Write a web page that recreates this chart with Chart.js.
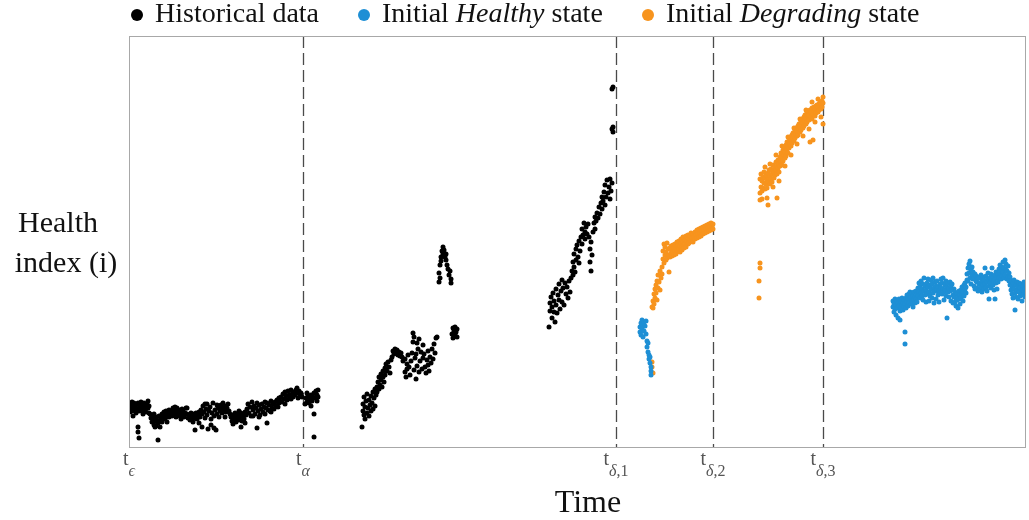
<!DOCTYPE html>
<html>
<head>
<meta charset="utf-8">
<script src="https://cdn.jsdelivr.net/npm/chart.js@4.4.1/dist/chart.umd.min.js"></script>
<style>
  body { margin: 0; background: #fff; }
  canvas { display: block; }
</style>
</head>
<body>
<canvas id="health" width="1029" height="520"></canvas>
<script>
// time on x, health index on y
const historicalData = [
  [0,3.9],[1,4.3],[1,3.5],[2,4.0],[3,4.5],[3,3.6],[4,4.1],[4,3.1],[5,3.7],[5,4.4],[6,3.9],[7,4.2],[7,3.4],[8,3.8],[9,4.4],[9,2.0],[9,1.5],[10,0.9],[10,3.6],[11,4.1],[12,3.9],[12,4.5],[13,3.6],[14,4.2],[14,3.3],[15,3.8],[15,4.4],[16,4.0],[17,3.5],[18,4.3],[19,3.9],[19,4.6],[20,4.1],[20,3.4],
  [21,3.3],[22,2.9],[23,3.1],[23,2.5],[24,2.8],[25,2.2],[25,3.3],[26,2.6],[26,2.0],[27,3.0],[27,2.1],[28,2.7],[29,0.7],[29,2.4],[30,3.1],[31,2.6],[31,2.0],[32,2.9],[33,3.3],[33,2.5],[34,3.0],[35,3.5],[36,2.8],[36,3.2],[37,3.6],[38,3.1],[38,2.5],[39,3.4],[40,3.0],[40,3.7],
  [41,3.3],[42,3.6],[43,3.1],[44,3.9],[44,3.4],[45,3.2],[46,3.6],[46,4.0],[47,3.0],[48,3.5],[48,3.9],[49,3.3],[50,3.7],[51,3.1],[52,3.4],[52,2.8],[53,3.8],[53,3.2],[54,3.6],[55,3.0],[56,3.4],[57,3.9],[58,3.3],[58,3.9],[59,2.9],[60,3.2],[61,2.7],[62,3.4],[62,3.0],[63,2.8],[64,3.3],[64,2.5],[65,3.1],[66,1.7],[66,2.9],[67,3.4],[68,2.8],[69,3.2],[70,3.5],[70,2.4],
  [71,3.0],[72,3.7],[73,2.0],[73,3.3],[74,4.1],[75,3.5],[76,2.9],[76,4.3],[77,3.8],[78,4.3],[78,3.2],[79,1.8],[80,3.6],[81,4.0],[82,2.8],[82,2.2],[83,3.4],[84,4.4],[85,1.9],[85,3.1],[86,3.7],[87,1.7],[88,4.2],[88,3.3],[89,3.9],[90,3.0],[90,4.1],[91,3.6],[92,4.2],[93,3.9],[93,3.4],[94,4.4],[95,3.7],[96,4.1],[96,3.0],[97,3.5],[98,3.9],[99,4.3],[100,3.6],
  [101,3.3],[102,3.0],[103,2.6],[104,3.2],[104,2.3],[105,2.8],[106,3.4],[107,2.5],[107,3.1],[108,2.9],[109,3.3],[110,2.7],[110,3.6],[111,3.0],[112,2.0],[112,3.4],[113,2.6],[114,3.1],[115,2.8],[116,3.5],[116,2.4],[117,3.2],[118,3.8],[119,4.3],[120,3.4],[121,4.0],[122,3.1],[123,4.5],[124,3.7],[124,3.1],[125,4.1],[126,3.3],[127,3.9],[128,1.9],[128,4.4],[129,3.6],[130,4.2],[130,3.0],
  [131,3.2],[132,3.8],[133,4.3],[134,3.5],[135,4.0],[136,3.3],[136,4.5],[137,3.9],[138,2.4],[138,4.4],[139,3.7],[140,4.2],[141,3.6],[142,4.6],[142,3.5],[143,3.9],[144,4.3],[145,3.8],[146,4.5],[147,4.1],[148,4.7],[149,4.0],[150,4.4],[150,4.9],[151,4.6],[152,5.0],[153,4.5],[154,5.3],[155,4.8],[156,5.5],[156,4.3],[157,5.1],[158,4.7],[159,5.6],[160,5.2],
  [161,4.9],[162,5.7],[162,4.8],[163,5.3],[164,5.0],[165,5.5],[166,5.2],[167,5.7],[168,5.4],[168,5.9],[169,4.9],[170,5.6],[171,5.1],[172,5.4],[173,5.0],
  [176,4.3],[177,4.9],[178,4.5],[178,5.4],[179,5.1],[180,4.4],[181,4.8],[182,5.2],[182,4.1],[183,4.6],[184,5.0],[185,3.3],[185,1.0],[185,5.4],[186,4.9],[187,5.6],[188,5.2],[188,4.6],[189,5.7],[189,5.0],
  [233,2.0],[234,4.3],[234,3.6],[235,5.0],[235,3.2],[236,4.0],[236,2.8],[237,4.6],[238,3.4],[238,5.3],[239,3.9],[240,4.7],[240,3.1],[241,4.2],[242,5.1],[242,3.6],[243,4.4],[244,3.8],[244,5.5],[245,4.9],[246,4.1],[246,5.8],[247,5.2],[248,6.0],[248,5.5],[249,6.5],[250,5.8],[250,7.0],
  [251,6.2],[252,7.3],[252,6.7],[253,6.0],[254,7.6],[254,7.0],[255,6.5],[256,7.9],[256,7.2],[257,8.3],[258,7.6],[259,8.5],[260,8.0],[261,7.4],[262,8.7],[263,9.0],[264,9.6],[265,9.3],[266,9.8],[267,9.4],[268,9.7],[269,9.2],[270,9.5],[271,9.1],[272,9.4],[273,9.0],[274,8.6],
  [276,7.5],[276,8.8],[277,7.0],[278,8.3],[278,7.8],[279,9.2],[280,8.0],[281,7.2],[282,8.6],[283,9.4],[284,10.5],[284,11.4],[285,11.0],[285,7.7],[286,8.9],[287,6.8],[287,9.3],[288,10.4],[288,8.1],[289,9.8],[290,7.5],[290,10.8],[291,8.6],[292,9.5],[293,7.8],[294,10.2],[294,8.9],[295,9.3],[296,8.0],[297,7.4],[298,8.7],[299,9.6],[299,8.2],[300,7.6],
  [301,9.0],[302,8.4],[303,9.8],[304,8.8],[305,10.3],[306,9.4],[307,10.9],[308,11.0],
  [310,16.5],[310,17.4],[311,18.2],[311,16.9],[312,19.0],[312,18.6],[313,19.6],[314,20.0],[314,19.3],[315,19.7],[316,19.0],[317,18.7],[317,19.3],[318,18.2],[319,17.8],[320,17.2],[321,17.6],[322,16.8],[322,16.4],
  [323,11.3],[324,11.9],[324,10.9],[325,11.6],[326,12.0],[326,11.2],[327,11.5],[328,11.8],[328,11.0],
  [420,12.0],[421,14.4],[421,13.6],[422,15.0],[423,14.0],[423,12.9],[424,15.4],[425,14.6],[425,13.5],[426,12.5],[427,15.8],[427,14.2],[428,13.4],[429,15.2],[430,16.3],[430,14.7],[431,13.8],[432,15.6],[433,16.7],[433,14.5],[434,15.9],[435,14.2],[436,16.4],[437,15.3],[438,16.0],[439,14.9],[440,16.6],[441,15.5],[442,16.9],
  [443,17.6],[444,18.5],[444,17.2],[445,19.3],[445,18.0],[446,17.5],[447,19.8],[447,18.7],[448,20.2],[449,19.0],[450,20.6],[450,18.4],[451,19.6],[452,21.0],[453,20.3],[453,21.8],[454,21.2],[455,22.4],[456,21.5],[456,20.8],[457,22.0],[458,21.3],[459,22.3],[460,21.0],
  [461,19.8],[461,18.5],[462,17.6],[462,20.5],[463,19.2],[464,21.5],[465,22.4],[466,23.0],[466,21.8],[467,22.6],[468,23.4],[469,22.9],[470,24.0],[471,23.3],[472,24.4],[473,25.0],[473,23.8],[474,24.6],[475,25.5],[476,24.2],[476,26.2],[477,25.0],[478,26.7],[479,25.4],[480,26.0],
  [481,26.8],[481,24.8],[482,25.6],[483,26.4],[483,31.8],[484,31.5],[484,32.0],[483,35.8],[484,36.0]
];

const healthyData = [
  [511,11.5],[511,12.0],[512,12.4],[512,11.2],[513,12.7],[513,11.8],[514,12.2],[514,11.0],[515,12.5],[515,11.6],[516,12.1],[517,12.6],[517,11.3],[518,10.6],[518,10.0],[519,10.4],[519,9.5],[520,9.2],[520,8.8],[521,8.4],[521,9.0],[522,8.0],[522,7.6],[522,7.2],
  [764,14.0],[764,14.6],[765,13.5],[765,14.3],[766,14.8],[766,13.8],[767,14.2],[767,13.2],[768,14.6],[768,13.9],[769,14.4],[769,12.9],[770,14.1],[770,14.8],[771,13.6],[771,12.7],[772,14.5],[772,13.9],[773,14.2],[773,14.9],[774,13.7],[774,14.4],[775,14.0],[775,14.7],
  [776,11.5],[776,10.3],[776,14.3],[777,14.9],[777,13.9],[778,14.5],[778,15.2],[779,14.1],[779,14.8],[780,15.3],[780,14.4],[781,14.9],[781,15.5],[782,14.3],[782,15.0],[783,14.6],[783,15.4],[784,14.0],[784,15.1],[785,14.7],[785,15.5],[786,14.4],[786,15.0],[787,15.6],[787,14.8],[788,15.3],[788,14.5],
  [789,15.9],[789,15.1],[790,16.4],[790,15.5],[791,14.9],[791,16.0],[792,15.4],[792,16.6],[793,15.1],[793,15.8],[794,16.3],[794,14.7],[795,15.6],[795,16.9],[796,15.2],[796,16.1],[797,15.7],[797,14.5],[798,16.4],[798,15.3],[799,16.0],[799,16.8],[800,15.5],[800,14.6],
  [801,16.2],[801,15.1],[802,16.7],[802,15.8],[803,14.9],[803,16.3],[804,15.4],[804,16.9],[805,15.9],[805,14.4],[806,16.5],[806,15.6],[807,16.1],[807,14.8],[808,15.7],[808,16.6],[809,15.2],[809,16.0],[810,15.6],[810,14.5],
  [811,16.3],[811,15.4],[812,16.8],[812,15.9],[813,15.3],[813,16.4],[814,15.8],[814,16.9],[815,15.5],[815,14.7],[816,16.2],[816,15.7],[817,16.6],[817,15.1],[818,16.0],[818,12.9],[819,15.5],[819,16.4],[820,15.9],[820,15.0],
  [821,16.5],[821,15.6],[822,16.1],[822,14.6],[823,15.7],[823,16.3],[824,15.2],[824,14.4],[825,15.8],[825,15.0],[826,14.5],[826,15.5],[827,14.9],[827,14.1],[828,15.3],[828,14.7],[829,15.0],[829,13.9],[830,15.6],[830,14.8],
  [831,15.2],[831,14.3],[832,15.7],[832,14.9],[833,15.3],[833,16.0],[834,14.6],[834,15.5],[835,16.2],[835,15.1],[836,15.8],[836,16.4],[837,15.4],[837,16.0],[838,16.7],[838,17.3],[839,17.9],[839,16.6],[840,18.3],[840,17.4],
  [841,18.6],[841,16.9],[842,17.7],[842,16.3],[843,17.2],[843,18.0],[844,16.8],[844,17.5],[845,16.1],[845,16.9],[846,17.3],[846,15.8],[847,16.6],[847,17.1],[848,15.9],[848,16.5],[849,17.0],[849,15.6],[850,16.3],[850,16.9],
  [851,15.7],[851,16.4],[852,17.2],[852,16.0],[853,15.5],[853,16.6],[854,17.0],[854,16.2],[855,15.8],[855,16.7],[856,17.9],[856,16.3],[857,15.9],[857,17.1],[858,16.5],[858,15.6],[859,17.4],[859,16.8],[860,16.1],[860,14.8],
  [861,16.9],[861,16.4],[862,17.3],[862,15.9],[863,17.9],[863,16.7],[864,16.2],[864,17.0],[865,15.7],[865,16.6],[866,17.2],[866,14.8],[867,16.4],[867,17.5],[868,16.9],[868,15.8],[869,17.3],[869,16.5],[870,17.8],[870,16.9],
  [871,17.4],[871,18.2],[872,16.8],[872,17.6],[873,18.0],[873,17.1],[874,18.5],[874,17.5],[875,16.9],[875,17.9],[876,18.7],[876,17.2],[877,17.7],[877,18.3],[878,16.8],[878,17.6],[879,18.1],[879,17.0],[880,16.6],[880,17.4],
  [881,16.2],[881,17.0],[882,15.7],[882,16.6],[883,16.1],[883,15.3],[884,16.4],[884,14.9],[885,15.8],[885,16.7],[886,15.4],[886,13.7],[887,16.2],[887,15.0],[888,16.5],[888,15.6],[889,16.0],[889,14.8],[890,15.5],[890,16.4],
  [891,15.1],[891,15.9],[892,16.3],[892,15.3],[893,15.7],[893,14.6],[894,16.1],[894,15.2],[895,15.6],[895,16.5],[896,15.0],[896,15.8],[897,15.4],[897,16.2]
];

const degradingData = [
  [523,8.5],[523,8.0],[524,7.4],
  [523,14.0],[524,14.6],[524,13.9],[525,15.3],[525,14.3],[526,15.8],[526,14.9],[527,16.2],[527,15.4],[528,14.7],[528,16.6],[529,15.9],[529,17.2],[530,16.5],[531,17.6],[531,15.7],[532,16.9],
  [533,18.0],[533,17.3],[534,18.8],[534,19.6],[535,18.4],[535,20.3],[536,19.2],[536,20.0],[537,18.7],[537,19.5],[538,20.4],[538,18.9],[539,19.8],[540,17.5],[540,19.2],
  [541,19.9],[541,19.0],[542,19.4],[542,20.1],[543,19.1],[543,19.8],[544,19.5],[544,20.2],[545,19.2],[545,19.9],[546,19.6],[546,20.3],[547,19.9],[547,19.3],[548,20.1],[548,20.5],[549,19.6],[549,20.2],[550,19.8],[550,20.6],
  [551,20.1],[551,19.5],[552,20.4],[552,20.8],[553,20.0],[553,19.7],[554,20.5],[554,21.0],[555,20.2],[555,19.9],[556,20.7],[556,20.3],[557,21.1],[557,20.0],[558,20.6],[559,20.3],[559,21.2],[560,20.8],[560,20.4],
  [561,21.1],[562,20.6],[562,21.4],[563,20.9],[564,21.3],[564,20.5],[565,21.0],[566,21.5],[566,20.8],[567,21.2],[568,21.7],[568,20.9],[569,21.3],[570,21.8],[570,21.0],
  [571,21.4],[572,21.9],[572,21.1],[573,21.6],[574,22.0],[574,21.3],[575,21.7],[576,22.1],[576,21.4],[577,21.8],[578,22.2],[578,21.5],[579,21.9],[580,22.3],[580,21.6],[581,22.0],[582,22.4],[582,21.7],[583,22.1],[584,21.8],[584,22.3],
  [630,14.9],[630,16.6],[631,17.9],[631,18.4],[631,24.7],[639,24.2],[648,24.9],
  [631,25.4],[631,26.8],[632,26.0],[632,27.3],[633,25.6],[633,26.6],[633,24.8],[634,27.0],[634,25.9],[635,26.4],[635,27.5],[636,25.8],[636,26.9],[636,28.0],[637,26.3],[637,27.2],[638,26.7],[638,25.9],[638,24.9],[639,27.4],[639,26.5],[640,26.9],[640,27.7],
  [641,26.3],[641,27.1],[641,28.3],[642,26.8],[642,27.8],[643,27.3],[643,26.5],[644,27.6],[644,28.2],[644,26.0],[645,26.9],[645,27.5],[646,28.0],[646,27.2],[647,28.5],[647,27.7],[647,29.2],[648,28.1],[648,27.3],[649,28.7],[649,27.9],[650,28.3],[650,27.5],[650,26.6],
  [651,29.0],[651,28.1],[652,28.6],[652,29.4],[653,28.2],[653,29.0],[653,30.1],[654,29.7],[654,28.6],[655,29.2],[655,30.0],[656,28.9],[656,29.5],[656,28.1],[657,30.2],[657,29.1],[658,29.8],[658,30.5],[659,29.4],[659,30.1],[659,31.0],[660,30.6],[660,29.9],
  [661,30.3],[661,31.0],[662,30.1],[662,30.7],[662,29.2],[663,31.2],[663,30.4],[664,30.9],[664,31.4],[665,30.6],[665,31.1],[665,31.9],[666,31.6],[666,30.9],[667,31.3],[667,31.9],[668,31.1],[668,31.6],[668,30.3],[669,32.1],[669,31.2],[670,31.8],[670,32.3],
  [671,31.5],[671,32.0],[671,32.8],[672,32.5],[672,31.7],[673,32.2],[673,32.8],[674,31.9],[674,32.4],[674,31.1],[675,33.0],[675,32.1],[676,32.6],[676,33.2],[677,32.3],[677,32.9],[677,33.7],[678,33.4],[678,32.5],[679,33.1],[679,33.6],[680,32.7],[680,33.2],[680,31.8],
  [681,33.7],[681,30.5],[682,33.0],[682,33.5],[683,32.8],[683,33.9],[683,34.5],[684,33.3],[684,30.7],[685,33.6],[685,34.0],[686,33.1],[686,33.8],[686,32.5],[687,34.1],[687,33.4],[688,33.9],[688,34.2],[689,33.5],[689,34.0],[689,34.8],[690,34.3],[690,33.7],
  [691,34.1],[691,34.5],[692,33.8],[692,34.3],[692,33.0],[693,34.6],[693,34.0],[694,34.4],[694,32.3],[694,35.0]
];

// change points: t_eps, t_alpha, t_delta1..3
const tickTimes = [0, 174, 487, 584, 694];
const tickSubs = ["\u03F5", "\u03B1", "\u03B4,1", "\u03B4,2", "\u03B4,3"];
const dashedTimes = [174, 487, 584, 694];

const BLUE = "#1e8fd5";
const ORANGE = "#f7941e";
const SERIF = "'Liberation Serif', 'Times New Roman', serif";

function toPoints(arr) {
    return arr.map(p => ({ x: p[0], y: p[1] }));
}

const overlay = {
    id: "overlay",
    beforeDatasetsDraw(chart) {
        const ctx = chart.ctx;
        const a = chart.chartArea;
        const x = chart.scales.x;
        ctx.save();
        ctx.strokeStyle = "#4a4a4a";
        ctx.lineWidth = 1.3;
        ctx.setLineDash([12, 5]);
        dashedTimes.forEach(t => {
            const px = Math.round(x.getPixelForValue(t)) + 0.5;
            ctx.beginPath();
            ctx.moveTo(px, a.top);
            ctx.lineTo(px, a.bottom);
            ctx.stroke();
        });
        ctx.restore();
    },
    afterDraw(chart) {
        const ctx = chart.ctx;
        const a = chart.chartArea;
        const x = chart.scales.x;
        ctx.save();

        // frame
        ctx.strokeStyle = "#a8a8a8";
        ctx.lineWidth = 1;
        ctx.strokeRect(a.left + 0.5, a.top + 0.5, a.right - a.left - 1, a.bottom - a.top);

        // tick labels t with subscripts
        ctx.fillStyle = "#555";
        ctx.textBaseline = "alphabetic";
        ctx.textAlign = "left";
        tickTimes.forEach((t, i) => {
            const px = x.getPixelForValue(t);
            const greek = tickSubs[i].charAt(0);
            const rest = tickSubs[i].slice(1);
            ctx.font = "20px " + SERIF;
            const w1 = ctx.measureText("t").width;
            ctx.font = "italic 16px " + SERIF;
            const w2 = ctx.measureText(greek).width;
            ctx.font = "16px " + SERIF;
            const w3 = ctx.measureText(rest).width;
            let sx = px - (w1 + w2 + w3) / 2;
            ctx.font = "20px " + SERIF;
            ctx.fillText("t", sx, 465);
            sx += w1;
            ctx.font = "italic 16px " + SERIF;
            ctx.fillText(greek, sx, 476);
            sx += w2;
            ctx.font = "16px " + SERIF;
            ctx.fillText(rest, sx, 476);
        });

        // axis titles
        ctx.fillStyle = "#111";
        ctx.textAlign = "center";
        ctx.font = "32px " + SERIF;
        ctx.fillText("Time", 588, 512);
        ctx.font = "30px " + SERIF;
        ctx.fillText("Health", 58, 232);
        ctx.fillText("index (i)", 66, 272);

        // legend
        const items = [
            [137, "#000", [["Historical data", false]]],
            [364, BLUE, [["Initial ", false], ["Healthy", true], [" state", false]]],
            [648, ORANGE, [["Initial ", false], ["Degrading", true], [" state", false]]]
        ];
        ctx.textAlign = "left";
        items.forEach(item => {
            ctx.fillStyle = item[1];
            ctx.beginPath();
            ctx.arc(item[0], 15, 6, 0, Math.PI * 2);
            ctx.fill();
            let tx = item[0] + 18;
            ctx.fillStyle = "#111";
            item[2].forEach(part => {
                ctx.font = (part[1] ? "italic " : "") + "28px " + SERIF;
                ctx.fillText(part[0], tx, 22);
                tx += ctx.measureText(part[0]).width;
            });
        });
        ctx.restore();
    }
};

const dotStyle = { pointRadius: 2.5, pointHoverRadius: 2.5, pointBorderWidth: 0, showLine: false };

const chart = new Chart(document.getElementById("health").getContext("2d"), {
    type: "scatter",
    data: {
        datasets: [
            Object.assign({ label: "Historical data", data: toPoints(historicalData), backgroundColor: "#000", borderColor: "#000" }, dotStyle),
            Object.assign({ label: "Initial Healthy state", data: toPoints(healthyData), backgroundColor: BLUE, borderColor: BLUE }, dotStyle),
            Object.assign({ label: "Initial Degrading state", data: toPoints(degradingData), backgroundColor: ORANGE, borderColor: ORANGE }, dotStyle)
        ]
    },
    options: {
        responsive: false,
        animation: false,
        events: [],
        layout: { padding: { left: 129, right: 3, top: 36, bottom: 73 } },
        plugins: {
            legend: { display: false },
            tooltip: { enabled: false }
        },
        scales: {
            x: { type: "linear", min: 0, max: 897, display: false },
            y: { type: "linear", min: 0, max: 41.1, display: false }
        }
    },
    plugins: [overlay]
});
</script>
</body>
</html>
